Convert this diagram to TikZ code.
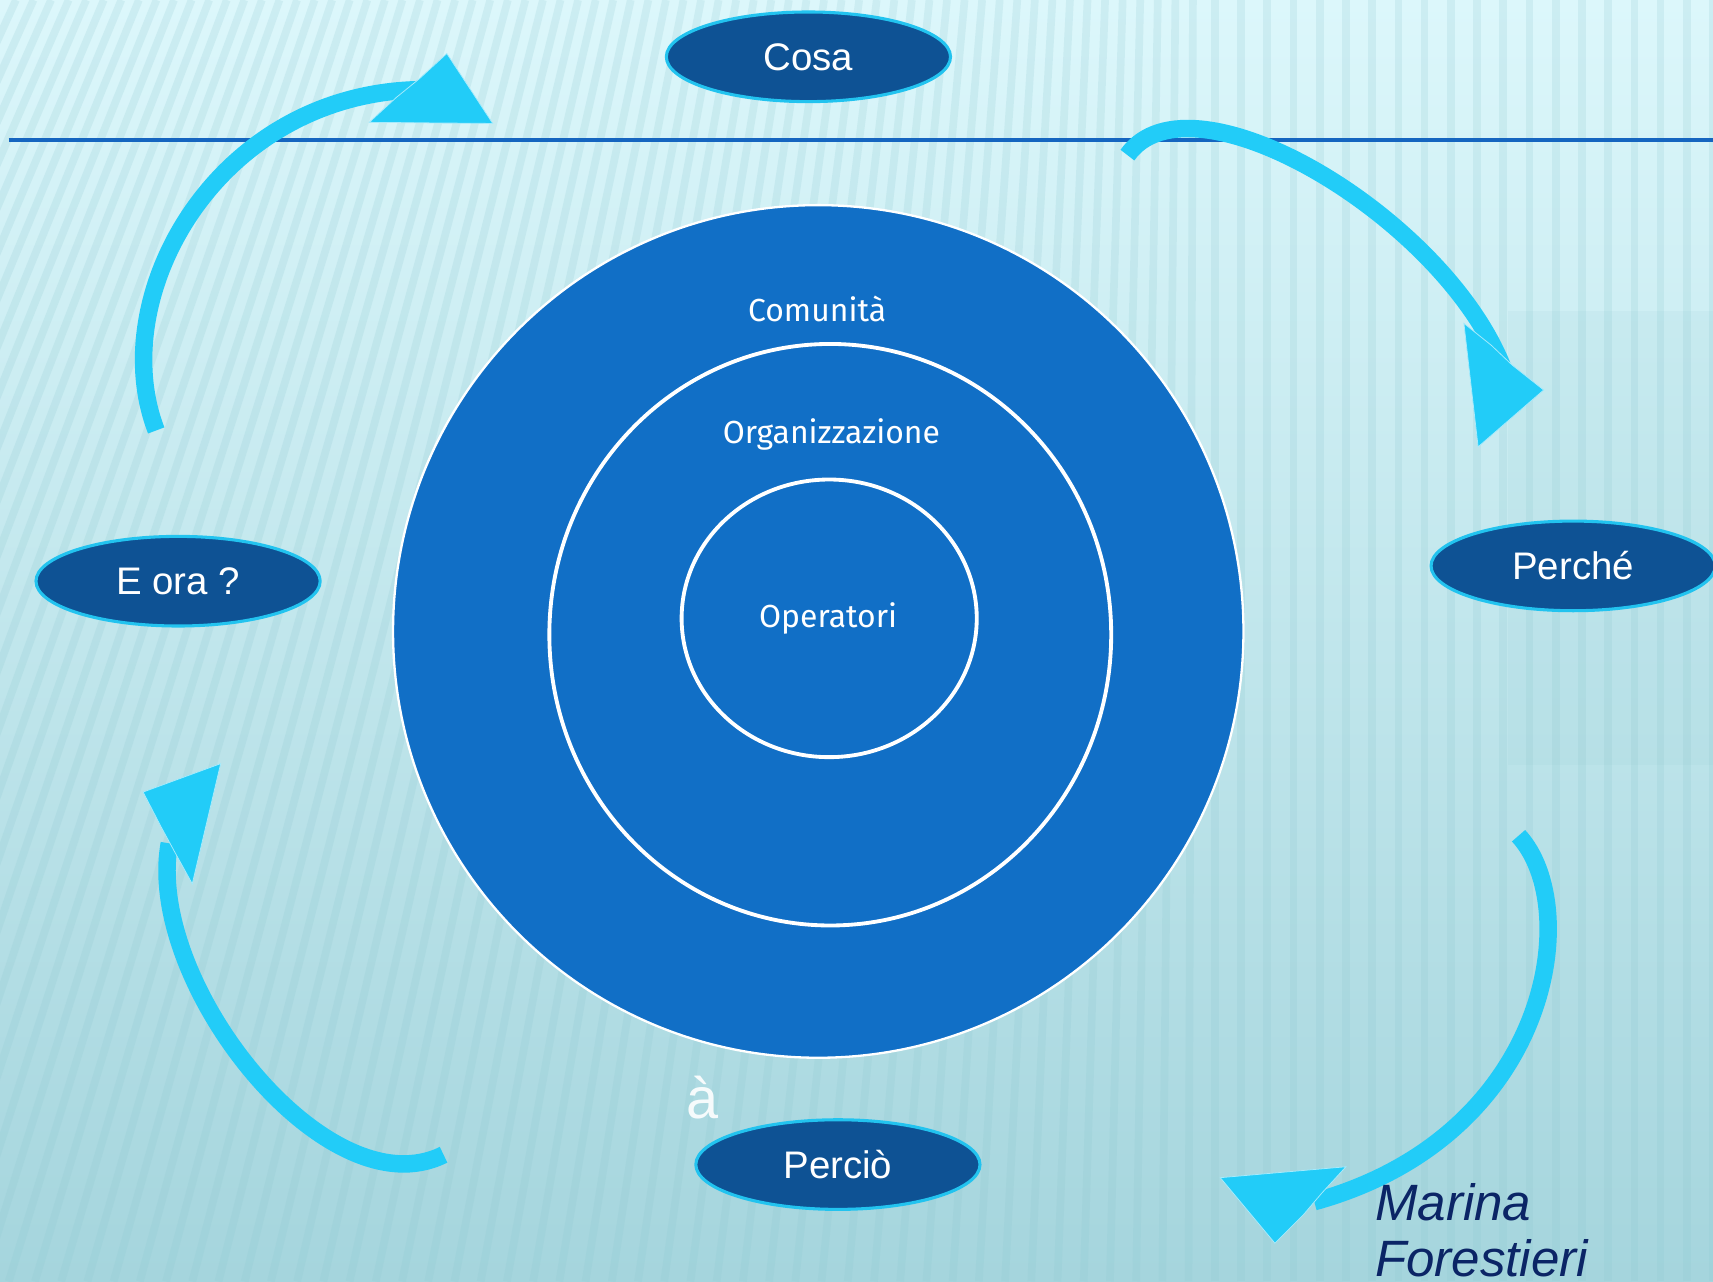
\documentclass[tikz,border=0pt]{standalone}
\usepackage{fontspec}
\setmainfont{Liberation Sans}
\newfontfamily\ringfont{Fira Sans}
\usepackage{xcolor}
\definecolor{bgtop}{RGB}{220,247,251}
\definecolor{bgbottom}{RGB}{165,213,221}
\definecolor{stripeteal}{RGB}{140,199,207}
\definecolor{ruleblue}{RGB}{21,101,192}
\definecolor{ringblue}{RGB}{17,111,198}
\definecolor{ovalblue}{RGB}{14,82,148}
\definecolor{ovalrim}{RGB}{34,195,239}
\definecolor{arrowcyan}{RGB}{34,204,248}
\definecolor{authornavy}{RGB}{11,37,102}
\usetikzlibrary{shapes.geometric}
\newcommand{\widthoval}{2.6cm}
\newcommand{\heightoval}{0.82cm}
\tikzset{
    oval/.style={ellipse, draw=ovalrim, line width=0.8pt, fill=ovalblue, text=white,
        minimum width=\widthoval, minimum height=\heightoval, inner sep=0pt,
        font=\fontsize{10}{12}\selectfont},
    ring/.style={ellipse, draw=white, line width=1pt, inner sep=0pt},
    ringlabel/.style={text=white, inner sep=0pt, font=\ringfont\fontsize{8.3}{10}\selectfont},
    shaft/.style={draw=arrowcyan, line width=0.16cm},
    head/.style={fill=arrowcyan, draw=white!60!arrowcyan, line width=0.2pt},
    stripeline/.style={draw=stripeteal, line width=0.07cm, opacity=0.2},
    rule/.style={draw=ruleblue, line width=0.9pt}
}

\begin{document}
\begin{tikzpicture}[x=0.01cm, y=-0.01cm]
    \useasboundingbox (0,0) rectangle (1568,1173);
    \begin{scope}
        \clip (0,0) rectangle (1568,1173);
        % background
        \fill[top color=bgtop, bottom color=bgbottom] (0,0) rectangle (1568,1173);
        \foreach \x in {-520,-496,...,1580}
            \draw[stripeline] (\x,1173) -- ({\x+0.33*max(0,1100-\x)},0);
        \fill[stripeteal, opacity=0.1] (1380,285) rectangle (1568,700);

        \coordinate (rule west) at (8,128);
        \coordinate (rule east) at (1568,128);
        \draw[rule] (rule west) -- (rule east);

        % rings
        \node[ring, fill=ringblue, line width=0.6pt, minimum width=7.78cm, minimum height=7.8cm] (comunita) at (749,578) {};
        \node[ring, minimum width=5.14cm, minimum height=5.32cm] (organizzazione) at (760,581) {};
        \node[ring, minimum width=2.7cm, minimum height=2.54cm] (operatori) at (759,566) {};
        \node[ringlabel] (comunita label) at (748,283) {Comunità};
        \node[ringlabel] (organizzazione label) at (761,398) {Organizzazione};
        \node[ringlabel] (operatori label) at (758,566) {Operatori};

        % ovals
        \node[oval] (cosa) at (740,52) {Cosa};
        \node[oval] (perche) at (1440,518) {Perché};
        \node[oval] (percio) at (767,1066) {Perciò};
        \node[oval] (eora) at (163,532) {E ora ?};

        % curved arrows
        \coordinate (a1 tail) at (143,394);
        \coordinate (a1 end) at (390,82);
        \draw[shaft] (a1 tail) .. controls (95,270) and (200,82) .. (a1 end);
        \fill[head] (384,72) -- (409,49) -- (451,113) -- (338,112) -- (363,89) -- cycle;

        \coordinate (a2 tail) at (1032,142);
        \coordinate (a2 end) at (1377,340);
        \draw[shaft] (a2 tail) .. controls (1090,60) and (1325,200) .. (a2 end);
        \fill[head] (1365,316) -- (1340,296) -- (1353,409) -- (1413,357) -- (1384,334) -- cycle;

        \coordinate (a3 tail) at (1390,765);
        \coordinate (a3 end) at (1203,1100);
        \draw[shaft] (a3 tail) .. controls (1450,830) and (1420,1040) .. (a3 end);
        \fill[head] (1210,1092) -- (1232,1068) -- (1117,1078) -- (1167,1138) -- (1193,1112) -- cycle;

        \coordinate (a4 tail) at (406,1057);
        \coordinate (a4 end) at (155,772);
        \draw[shaft] (a4 tail) .. controls (300,1110) and (132,900) .. (a4 end);
        \fill[head] (160,780) -- (176,809) -- (202,699) -- (131,725) -- (147,756) -- cycle;

        \node[text=white, opacity=0.9, inner sep=0pt, font=\fontsize{15}{18}\selectfont] (accent) at (643,1005) {à};
        \node[anchor=north west, align=left, inner sep=0pt, text=authornavy,
            font=\itshape\fontsize{13.3}{14.5}\selectfont] (author) at (1258,1083) {Marina\\Forestieri};
    \end{scope}
\end{tikzpicture}
\end{document}
